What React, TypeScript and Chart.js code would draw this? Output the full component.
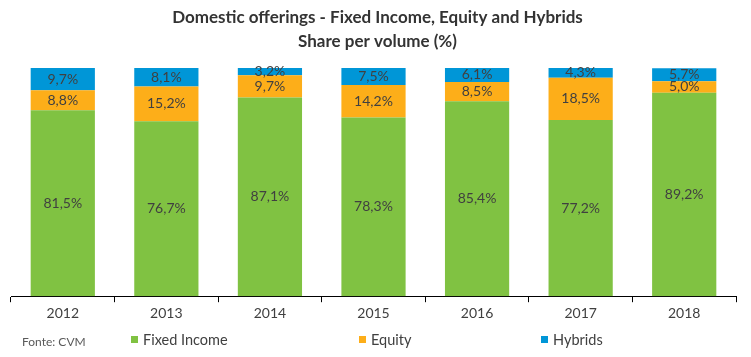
import React, { useEffect, useRef } from "react";
import { Chart, registerables } from "chart.js";

Chart.register(...registerables);

const categories = ["2012", "2013", "2014", "2015", "2016", "2017", "2018"];
const fixedIncome = [81.5, 76.7, 87.1, 78.3, 85.4, 77.2, 89.2];
const equity = [8.8, 15.2, 9.7, 14.2, 8.5, 18.5, 5.0];
const hybrids = [9.7, 8.1, 3.2, 7.5, 6.1, 4.3, 5.7];
const titleLines = ["Domestic offerings - Fixed Income, Equity and Hybrids", "Share per volume (%)"];
const sourceText = "Fonte: CVM";

const FONT = "Lato, 'Open Sans', sans-serif";
const TEXT = "#404040";

const overlayPlugin = {
  id: "overlay",
  afterDatasetsDraw(chart: any) {
    const ctx = chart.ctx;
    ctx.save();
    ctx.font = `14px ${FONT}`;
    ctx.fillStyle = TEXT;
    ctx.textAlign = "center";
    ctx.textBaseline = "middle";
    chart.data.datasets.forEach((ds: any, di: number) => {
      const meta = chart.getDatasetMeta(di);
      meta.data.forEach((bar: any, i: number) => {
        const v = ds.data[i];
        const yc = (bar.y + bar.base) / 2;
        ctx.fillText(v.toFixed(1).replace(".", ",") + "%", bar.x, yc);
      });
    });
    ctx.restore();
  },
  afterDraw(chart: any) {
    const ctx = chart.ctx;
    const w = chart.width;
    ctx.save();
    ctx.fillStyle = "#333333";
    ctx.textAlign = "center";
    ctx.textBaseline = "middle";
    ctx.font = `bold 17px ${FONT}`;
    ctx.fillText(titleLines[0], w / 2 + 2, 18);
    ctx.fillText(titleLines[1], w / 2 + 2, 42);
    ctx.textAlign = "left";
    ctx.font = `12px ${FONT}`;
    ctx.fillStyle = "#595959";
    ctx.fillText(sourceText, 22, 342);
    const xs = [131, 359, 541];
    ctx.font = `14.5px ${FONT}`;
    chart.data.datasets.forEach((ds: any, di: number) => {
      ctx.fillStyle = ds.backgroundColor;
      ctx.fillRect(xs[di], 336, 7, 7);
      ctx.fillStyle = TEXT;
      ctx.fillText(ds.label, xs[di] + 12, 340);
    });
    ctx.restore();
  },
};

export default function App() {
  const ref = useRef<HTMLCanvasElement>(null);
  useEffect(() => {
    const chart = new Chart(ref.current!, {
      type: "bar",
      data: {
        labels: categories,
        datasets: [
          { label: "Fixed Income", data: fixedIncome, backgroundColor: "#80C242" },
          { label: "Equity", data: equity, backgroundColor: "#FDAE19" },
          { label: "Hybrids", data: hybrids, backgroundColor: "#0096D7" },
        ],
      },
      options: {
        responsive: false,
        animation: false,
        layout: { padding: { left: 11, right: 15, top: 68, bottom: 32 } },
        datasets: { bar: { categoryPercentage: 0.62, barPercentage: 1 } },
        plugins: { legend: { display: false }, title: { display: false }, tooltip: { enabled: false } },
        scales: {
          x: {
            stacked: true,
            grid: { drawOnChartArea: false, drawTicks: true, tickLength: 6, color: "#000000", offset: true },
            border: { color: "#000000", width: 1 },
            ticks: { color: TEXT, font: { family: FONT, size: 14 }, padding: 3 },
          },
          y: {
            stacked: true,
            display: false,
            min: 0,
            max: 100,
          },
        },
      },
      plugins: [overlayPlugin],
    });
    return () => chart.destroy();
  }, []);
  return (
    <div style={{ position: "fixed", left: 0, top: 0, width: 751, height: 357, background: "#fff" }}>
      <canvas ref={ref} width={751} height={357} />
    </div>
  );
}
